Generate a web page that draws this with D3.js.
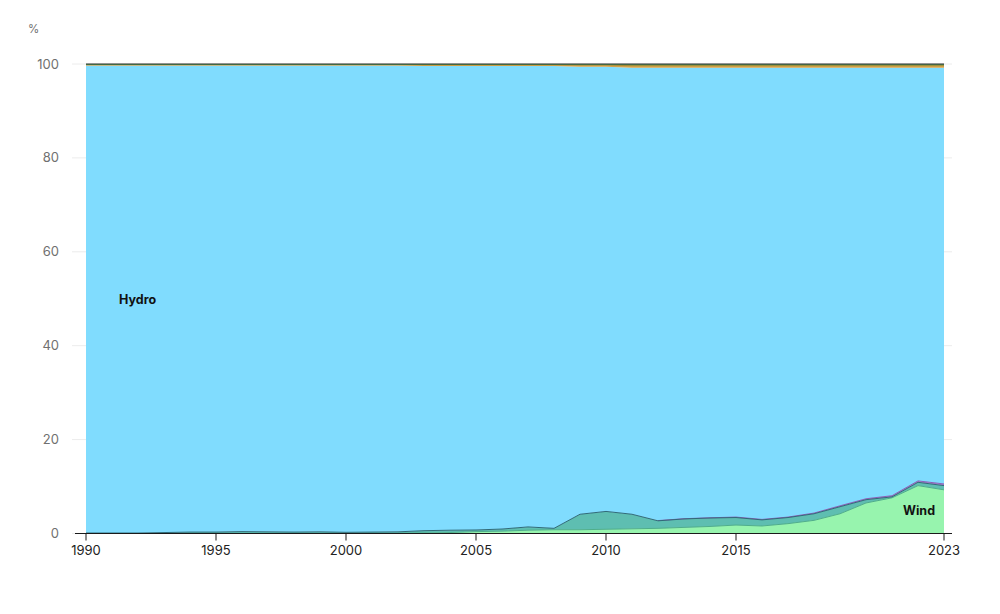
<!DOCTYPE html>
<html>
<head>
<meta charset="utf-8">
<script src="https://cdn.jsdelivr.net/npm/d3@7"></script>
<style>
  html, body { margin: 0; padding: 0; background: #fff; }
  svg { display: block; font-family: Inter, "Noto Sans", sans-serif; }
</style>
</head>
<body>
<svg id="chart" width="1000" height="614"></svg>
<script>
const years = [1990,1991,1992,1993,1994,1995,1996,1997,1998,1999,2000,2001,2002,2003,2004,2005,2006,2007,2008,2009,2010,2011,2012,2013,2014,2015,2016,2017,2018,2019,2020,2021,2022,2023];
const wind = [0,0,0,0,0,0,0,0,0,0,0,0,0.05,0.1,0.2,0.4,0.5,0.7,0.8,0.8,0.9,1.0,1.1,1.3,1.5,1.8,1.6,2.1,2.8,4.2,6.5,7.6,10.2,9.3];
const gas = [0.1,0.1,0.1,0.2,0.3,0.3,0.4,0.35,0.3,0.35,0.25,0.3,0.3,0.5,0.5,0.35,0.45,0.7,0.3,3.3,3.8,3.1,1.6,1.8,1.8,1.6,1.3,1.3,1.4,1.5,0.7,0.2,0.7,0.9];
const solar = [0,0,0,0,0,0,0,0,0,0,0,0,0,0,0,0,0,0,0,0,0,0,0.05,0.05,0.05,0.1,0.1,0.1,0.15,0.2,0.2,0.25,0.3,0.35];
const hydro = [99.6,99.6,99.6,99.5,99.4,99.4,99.3,99.35,99.4,99.35,99.45,99.4,99.35,99.0,98.9,98.85,98.65,98.2,98.5,95.3,94.7,95.1,96.45,96.05,95.85,95.7,96.2,95.7,94.85,93.3,91.8,91.15,88.0,88.65];
const bioenergy = [0.15,0.15,0.15,0.15,0.15,0.15,0.15,0.15,0.15,0.15,0.15,0.15,0.15,0.25,0.25,0.25,0.25,0.25,0.25,0.35,0.35,0.45,0.45,0.45,0.45,0.45,0.45,0.45,0.45,0.45,0.45,0.45,0.45,0.45];
const otherFossil = [0.05,0.05,0.05,0.05,0.05,0.05,0.05,0.05,0.05,0.05,0.05,0.05,0.05,0.05,0.05,0.05,0.05,0.05,0.05,0.15,0.15,0.2,0.2,0.2,0.2,0.2,0.2,0.2,0.2,0.2,0.2,0.2,0.2,0.2];
const coal = [0.1,0.1,0.1,0.1,0.1,0.1,0.1,0.1,0.1,0.1,0.1,0.1,0.1,0.1,0.1,0.1,0.1,0.1,0.1,0.1,0.1,0.15,0.15,0.15,0.15,0.15,0.15,0.15,0.15,0.15,0.15,0.15,0.15,0.15];
const yTicks = [0,20,40,60,80,100];
const xTicks = [1990,1995,2000,2005,2010,2015,2023];

const seriesKeys = ["Wind","Gas","Solar","Hydro","Bioenergy","Other fossil","Coal"];
const seriesData = [wind, gas, solar, hydro, bioenergy, otherFossil, coal];
const fills = {"Wind":"#97f4ae","Gas":"#5ebeb1","Solar":"#a57dcc","Hydro":"#80dcfe","Bioenergy":"#d2a24a","Other fossil":"#6cbf6c","Coal":"#4a4a4a"};
const strokes = {"Wind":"#4fae8a","Gas":"#2f6a78","Solar":"#8a5fb8","Hydro":"#5fb6d6","Bioenergy":"#b8862c","Other fossil":"#4f9f55","Coal":"#333333"};

const table = years.map((y, i) => {
  const row = {year: y};
  seriesKeys.forEach((k, j) => row[k] = seriesData[j][i]);
  return row;
});

const svg = d3.select("#chart");
const x = d3.scaleLinear().domain([1990, 2023]).range([86, 944]);
const y = d3.scaleLinear().domain([0, 100]).range([533.5, 64]);

// gridlines
svg.append("g").selectAll("line").data(yTicks).join("line")
  .attr("x1", 72).attr("x2", 952)
  .attr("y1", d => y(d)).attr("y2", d => y(d))
  .attr("stroke", "#ececec").attr("stroke-width", 1);

// y labels
svg.append("g").selectAll("text").data(yTicks).join("text")
  .attr("x", 59).attr("y", d => y(d)).attr("dy", "0.35em")
  .attr("text-anchor", "end").attr("fill", "#707070")
  .attr("font-size", 13).text(d => d);

svg.append("text").attr("x", 28).attr("y", 33)
  .attr("fill", "#707070").attr("font-size", 11.5).text("%");

const stack = d3.stack().keys(seriesKeys);
const layers = stack(table);

const area = d3.area()
  .x(d => x(d.data.year))
  .y0(d => y(d[0]))
  .y1(d => y(d[1]));
const topLine = d3.line()
  .defined(d => d[1] - d[0] > 0)
  .x(d => x(d.data.year))
  .y(d => y(d[1]));

const g = svg.append("g");
g.selectAll("path.area").data(layers).join("path")
  .attr("class", "area")
  .attr("d", area)
  .attr("fill", d => fills[d.key]);

const lineOrder = ["Solar","Wind","Gas","Bioenergy","Other fossil","Coal"];
g.selectAll("path.top").data(lineOrder.map(k => layers.find(l => l.key === k))).join("path")
  .attr("class", "top")
  .attr("d", topLine)
  .attr("fill", "none")
  .attr("stroke", d => strokes[d.key])
  .attr("stroke-width", 1);

// x axis
const xAxis = svg.append("g");
xAxis.append("line").attr("x1", 75).attr("x2", 952)
  .attr("y1", y(0)).attr("y2", y(0))
  .attr("stroke", "#1a1a1a").attr("stroke-width", 1.2);
xAxis.selectAll("line.tick").data(xTicks).join("line")
  .attr("class", "tick")
  .attr("x1", d => x(d)).attr("x2", d => x(d))
  .attr("y1", y(0)).attr("y2", y(0) + 7)
  .attr("stroke", "#1a1a1a").attr("stroke-width", 1);
xAxis.selectAll("text").data(xTicks).join("text")
  .attr("x", d => x(d)).attr("y", y(0) + 21)
  .attr("text-anchor", "middle").attr("fill", "#222")
  .attr("font-size", 13).text(d => d);

// labels
svg.append("text").attr("x", 119).attr("y", 300).attr("dy", "0.35em")
  .attr("font-size", 12.5).attr("font-weight", "bold").attr("fill", "#111").text("Hydro");
svg.append("text").attr("x", 903).attr("y", 511).attr("dy", "0.35em")
  .attr("font-size", 12.5).attr("font-weight", "bold").attr("fill", "#111").text("Wind");
</script>
</body>
</html>
